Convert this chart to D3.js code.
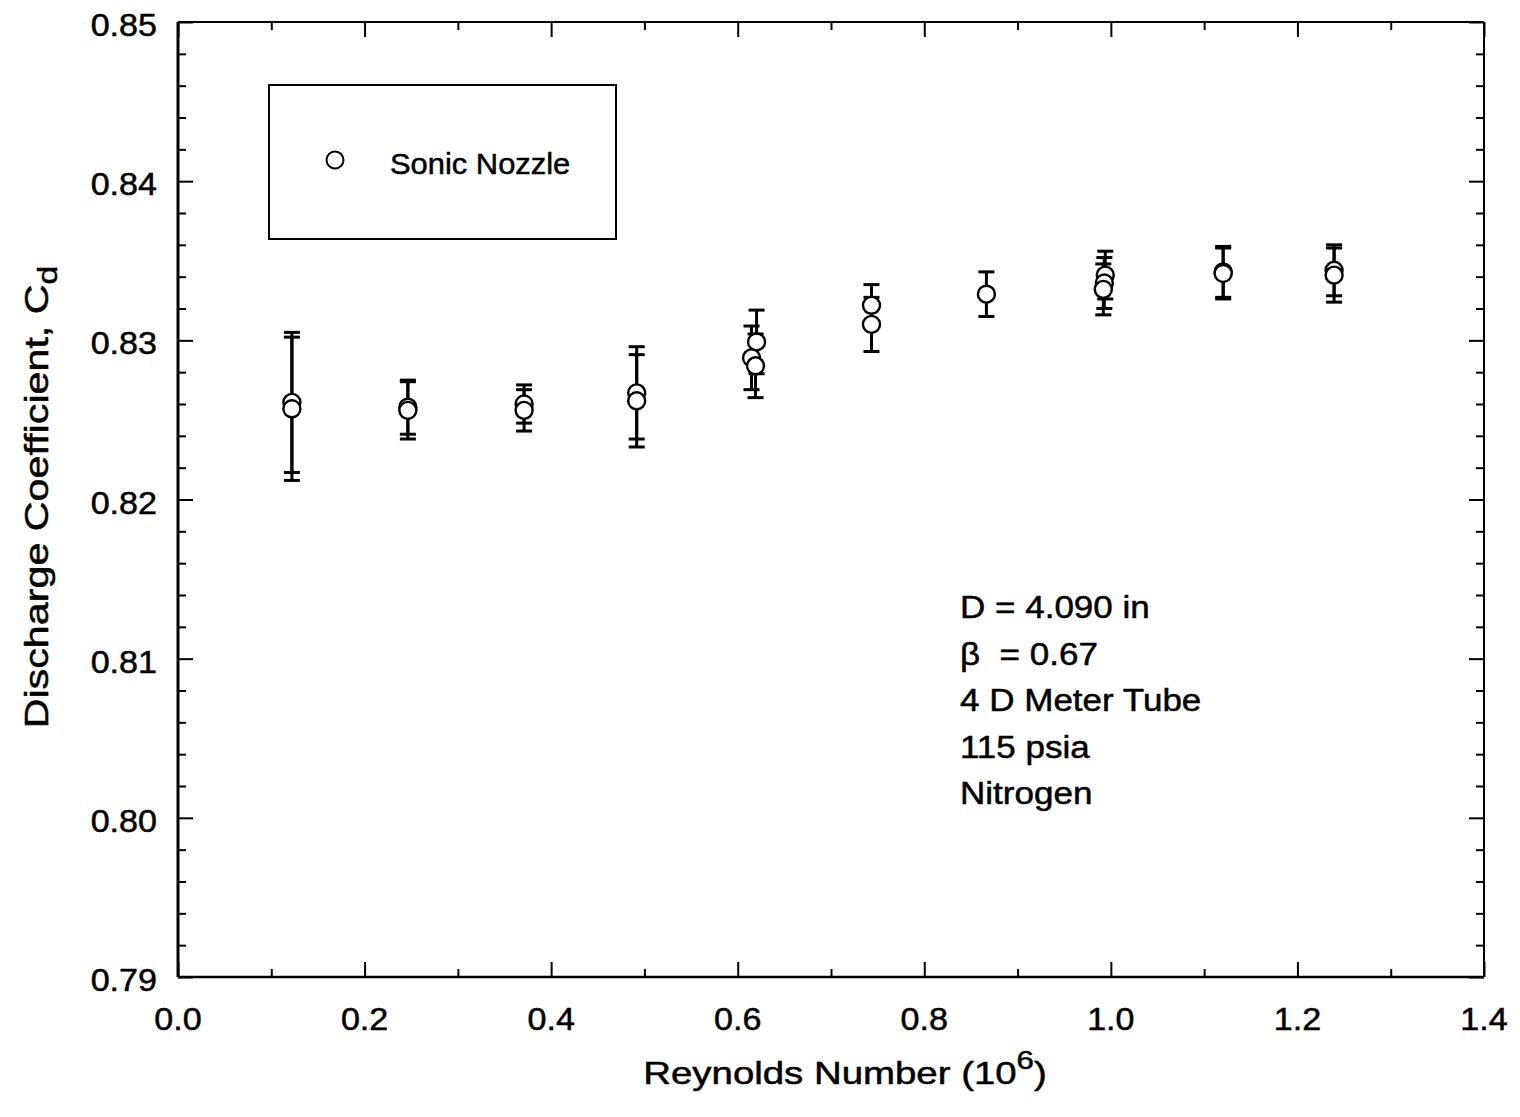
<!DOCTYPE html>
<html>
<head>
<meta charset="utf-8">
<script src="https://d3js.org/d3.v7.min.js"></script>
<style>
  body { margin: 0; background: #fff; }
  svg text { font-family: "Liberation Sans", Arial, Helvetica, sans-serif; fill: #000;
             stroke: #000; stroke-width: 0.5px; }
</style>
</head>
<body>
<script>
// data (Re in 10^6, Cd, +/- uncertainty)
var reynolds = [0.1221, 0.1221, 0.2464, 0.2464, 0.3710, 0.3710, 0.4917, 0.4917,
                0.6202, 0.6148, 0.6191, 0.7434, 0.7434, 0.8666,
                0.9940, 0.9930, 0.9919, 1.1204, 1.1204, 1.2393, 1.2393];
var cd       = [0.8261, 0.8257, 0.8258, 0.8256, 0.8260, 0.8256, 0.8267, 0.8262,
                0.8299, 0.8289, 0.8284, 0.8322, 0.8310, 0.8329,
                0.8341, 0.8336, 0.8332, 0.8343, 0.8342, 0.8344, 0.8341];
var cdErr    = [0.0044, 0.0045, 0.0017, 0.0018, 0.0012, 0.0013, 0.0029, 0.0029,
                0.0020, 0.0020, 0.0020, 0.0013, 0.0017, 0.0014,
                0.0015, 0.0016, 0.0016, 0.0016, 0.0016, 0.0016, 0.0017];
var xTicks = [0.0, 0.2, 0.4, 0.6, 0.8, 1.0, 1.2, 1.4];
var yTicks = [0.79, 0.80, 0.81, 0.82, 0.83, 0.84, 0.85];
var notes = ["D = 4.090 in", "\u03B2\u00A0\u00A0= 0.67", "4 D Meter Tube", "115 psia", "Nitrogen"];

var W = 1520, H = 1117;
var margin = {top: 22, right: 36, bottom: 140, left: 178};
var width = W - margin.left - margin.right,
    height = H - margin.top - margin.bottom;

var svg = d3.select("body").append("svg")
    .attr("width", W).attr("height", H);
var g = svg.append("g")
    .attr("transform", "translate(" + margin.left + "," + margin.top + ")");

var x = d3.scaleLinear().domain([0, 1.4]).range([0, width]);
var y = d3.scaleLinear().domain([0.79, 0.85]).range([height, 0]);

var xMinor = d3.range(0.1, 1.4, 0.2);
var yMinor = d3.range(0, 30).map(function(i){ return +(0.79 + i * 0.002).toFixed(3); })
    .filter(function(v){ return Math.round(v * 1000) % 10 != 0; });

// the scanned lettering is wider than Liberation Sans, so stretch it a bit
function label(parent, px, py, size, sx, anchor, txt, rot) {
  var t = "translate(" + px + "," + py + ")" + (rot ? " rotate(" + rot + ")" : "") + " scale(" + sx + ",1)";
  return parent.append("text").attr("transform", t)
    .attr("text-anchor", anchor || "start")
    .style("font-size", size + "px").text(txt);
}

// *** axes (ticks point inward on all four sides)
function styleAxis(sel) {
  sel.select(".domain").remove();
  sel.selectAll("line").attr("stroke", "#000").attr("stroke-width", 2);
  sel.selectAll("text").remove();
}
g.append("g").attr("transform", "translate(0," + height + ")")
  .call(d3.axisBottom(x).tickValues(xTicks).tickSizeInner(-15)).call(styleAxis);
g.append("g").attr("transform", "translate(0," + height + ")")
  .call(d3.axisBottom(x).tickValues(xMinor).tickSizeInner(-8)).call(styleAxis);
g.append("g")
  .call(d3.axisTop(x).tickValues(xTicks).tickSizeInner(-15)).call(styleAxis);
g.append("g")
  .call(d3.axisTop(x).tickValues(xMinor).tickSizeInner(-8)).call(styleAxis);
g.append("g")
  .call(d3.axisLeft(y).tickValues(yTicks).tickSizeInner(-15)).call(styleAxis);
g.append("g")
  .call(d3.axisLeft(y).tickValues(yMinor).tickSizeInner(-8)).call(styleAxis);
g.append("g").attr("transform", "translate(" + width + ",0)")
  .call(d3.axisRight(y).tickValues(yTicks).tickSizeInner(-15)).call(styleAxis);
g.append("g").attr("transform", "translate(" + width + ",0)")
  .call(d3.axisRight(y).tickValues(yMinor).tickSizeInner(-8)).call(styleAxis);

// tick labels
xTicks.forEach(function(t){
  label(g, x(t), height + 53, 31, 1.1, "middle", d3.format(".1f")(t));
});
yTicks.forEach(function(t){
  label(g, -21, y(t) + 14, 31, 1.1, "end", d3.format(".2f")(t));
});

// frame
g.append("line").attr("x1", 0).attr("x2", 0).attr("y1", 0).attr("y2", height)
  .attr("stroke", "#000").attr("stroke-width", 3);
g.append("line").attr("x1", 0).attr("x2", width).attr("y1", height).attr("y2", height)
  .attr("stroke", "#000").attr("stroke-width", 2.5);
g.append("line").attr("x1", 0).attr("x2", width).attr("y1", 0).attr("y2", 0)
  .attr("stroke", "#000").attr("stroke-width", 2);
g.append("line").attr("x1", width).attr("x2", width).attr("y1", 0).attr("y2", height)
  .attr("stroke", "#000").attr("stroke-width", 2);

// *** error bars
var pts = reynolds.map(function(r, i){ return {re: r, cd: cd[i], err: cdErr[i]}; });
var bars = g.append("g");
pts.forEach(function(d){
  var cx = x(d.re), y1 = y(d.cd + d.err), y2 = y(d.cd - d.err);
  bars.append("line").attr("x1", cx).attr("x2", cx).attr("y1", y1).attr("y2", y2)
    .attr("stroke", "#000").attr("stroke-width", 3);
  [y1, y2].forEach(function(yy){
    bars.append("line").attr("x1", cx - 8).attr("x2", cx + 8).attr("y1", yy).attr("y2", yy)
      .attr("stroke", "#000").attr("stroke-width", 3);
  });
});

// *** markers
g.append("g").selectAll("circle").data(pts).enter().append("circle")
  .attr("cx", function(d){ return x(d.re); })
  .attr("cy", function(d){ return y(d.cd); })
  .attr("r", 8.5)
  .attr("fill", "#fff")
  .attr("stroke", "#000")
  .attr("stroke-width", 2.4);

// *** legend
svg.append("rect").attr("x", 269).attr("y", 85).attr("width", 347).attr("height", 154)
  .attr("fill", "none").attr("stroke", "#000").attr("stroke-width", 2);
svg.append("circle").attr("cx", 335).attr("cy", 160).attr("r", 8.5)
  .attr("fill", "#fff").attr("stroke", "#000").attr("stroke-width", 2);
label(svg, 390, 174, 30, 1.03, "start", "Sonic Nozzle");

// *** annotation
notes.forEach(function(t, i){
  label(svg, 960, 618 + i * 46.5, 31, 1.13, "start", t);
});

// *** axis titles
var xt = label(svg, 845, 1084, 32, 1.2, "middle", "Reynolds Number (10");
xt.append("tspan").attr("dy", -15).style("font-size", "26px").text("6");
xt.append("tspan").attr("dy", 15).text(")");

var yt = label(svg, 48, 497, 33, 1.25, "middle", "Discharge Coefficient, C", -90);
yt.append("tspan").attr("dy", 9).style("font-size", "27px").text("d");
</script>
</body>
</html>
